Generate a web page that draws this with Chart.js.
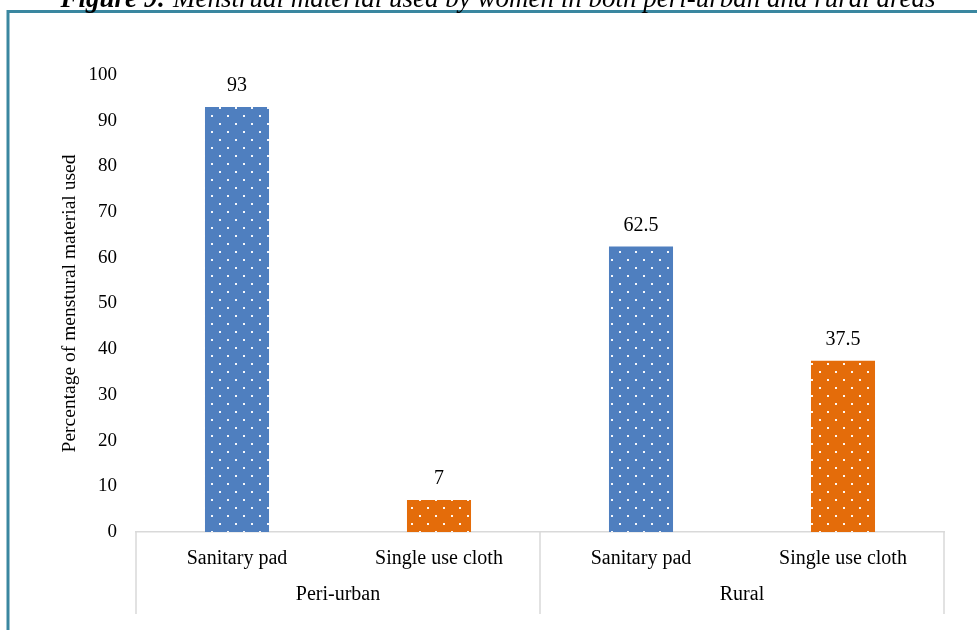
<!DOCTYPE html>
<html>
<head>
<meta charset="utf-8">
<script src="https://cdn.jsdelivr.net/npm/chart.js@4.4.1/dist/chart.umd.min.js"></script>
<style>
  html, body { margin: 0; padding: 0; background: #ffffff; }
  #grafico { display: block; }
</style>
</head>
<body>
<canvas id="grafico" width="977" height="630"></canvas>
<script>
// Datos del gráfico
const categories = ['Sanitary pad', 'Single use cloth', 'Sanitary pad', 'Single use cloth'];
const groups = ['Peri-urban', 'Rural'];
const values = [93, 7, 62.5, 37.5];
const yTicks = [0, 10, 20, 30, 40, 50, 60, 70, 80, 90, 100];

const blue = '#4f7fbf';
const orange = '#e46c0a';
const fontSerif = '"Liberation Serif", "DejaVu Serif", serif';

// Crea un patrón de puntos blancos sobre un color
function dotPattern(color) {
    const tile = document.createElement('canvas');
    tile.width = 16;
    tile.height = 16;
    const t = tile.getContext('2d');
    t.fillStyle = color;
    t.fillRect(0, 0, 16, 16);
    t.fillStyle = 'rgba(255,255,255,0.95)';
    t.fillRect(3, 3, 2, 2);
    t.fillRect(11, 11, 2, 2);
    return document.getElementById('grafico').getContext('2d').createPattern(tile, 'repeat');
}

const barColors = [dotPattern(blue), dotPattern(orange), dotPattern(blue), dotPattern(orange)];

// Dibuja marco, título, etiquetas de valor y agrupaciones
const extras = {
    id: 'extras',
    afterDraw(chart) {
        const ctx = chart.ctx;
        const x = chart.scales.x;
        const meta = chart.getDatasetMeta(0);

        ctx.save();
        // valores encima de las barras
        ctx.fillStyle = '#000';
        ctx.font = '20px ' + fontSerif;
        ctx.textAlign = 'center';
        ctx.textBaseline = 'middle';
        meta.data.forEach((bar, i) => {
            ctx.fillText(String(values[i]), bar.x, bar.y - 21);
        });

        // líneas divisorias del eje de categorías
        const w = (x.right - x.left) / categories.length;
        ctx.strokeStyle = '#d9d9d9';
        ctx.lineWidth = 1.5;
        [x.left, x.left + 2 * w, x.right].forEach(px => {
            ctx.beginPath();
            ctx.moveTo(px, x.top);
            ctx.lineTo(px, 614);
            ctx.stroke();
        });

        // nombres de los grupos
        groups.forEach((g, i) => {
            ctx.fillText(g, x.left + w * (2 * i + 1), 595);
        });

        // marco exterior
        ctx.strokeStyle = '#3a87a0';
        ctx.lineWidth = 3;
        ctx.beginPath();
        ctx.moveTo(8, 640);
        ctx.lineTo(8, 11.5);
        ctx.lineTo(990, 11.5);
        ctx.stroke();

        // título (cortado arriba)
        ctx.textBaseline = 'alphabetic';
        ctx.textAlign = 'left';
        const part1 = 'Figure 9:';
        const part2 = ' Menstrual material used by women in both peri-urban and rural areas';
        ctx.font = 'italic bold 27px ' + fontSerif;
        const w1 = ctx.measureText(part1).width;
        ctx.font = 'italic 27px ' + fontSerif;
        const w2 = ctx.measureText(part2).width;
        const start = 498 - (w1 + w2) / 2;
        ctx.font = 'italic bold 27px ' + fontSerif;
        ctx.fillText(part1, start, 7);
        ctx.font = 'italic 27px ' + fontSerif;
        ctx.fillText(part2, start + w1, 7);
        ctx.restore();
    }
};

const ctx = document.getElementById('grafico').getContext('2d');
new Chart(ctx, {
    type: 'bar',
    data: {
        labels: categories,
        datasets: [{
            data: values,
            backgroundColor: barColors,
            borderWidth: 0,
            categoryPercentage: 1,
            barPercentage: 0.317
        }]
    },
    options: {
        responsive: false,
        animation: false,
        devicePixelRatio: 1,
        layout: { padding: { top: 75, right: 33, left: 58, bottom: 0 } },
        plugins: {
            legend: { display: false },
            tooltip: { enabled: false }
        },
        scales: {
            x: {
                grid: { display: false, drawTicks: false },
                border: { display: true, color: '#d9d9d9', width: 1.5 },
                ticks: {
                    color: '#000',
                    padding: 15,
                    maxRotation: 0,
                    autoSkip: false,
                    font: { family: fontSerif, size: 20 }
                },
                afterFit: s => { s.height = 98; }
            },
            y: {
                min: 0,
                max: 100,
                afterBuildTicks: s => { s.ticks = yTicks.map(v => ({ value: v })); },
                grid: { display: false, drawTicks: false },
                border: { display: false },
                ticks: {
                    color: '#000',
                    padding: 19,
                    font: { family: fontSerif, size: 19 }
                },
                title: {
                    display: true,
                    text: 'Percentage of menstural material used',
                    color: '#000',
                    padding: 0,
                    font: { family: fontSerif, size: 19.5 }
                },
                afterFit: s => { s.width = 136 - 58; }
            }
        }
    },
    plugins: [extras]
});
</script>
</body>
</html>
